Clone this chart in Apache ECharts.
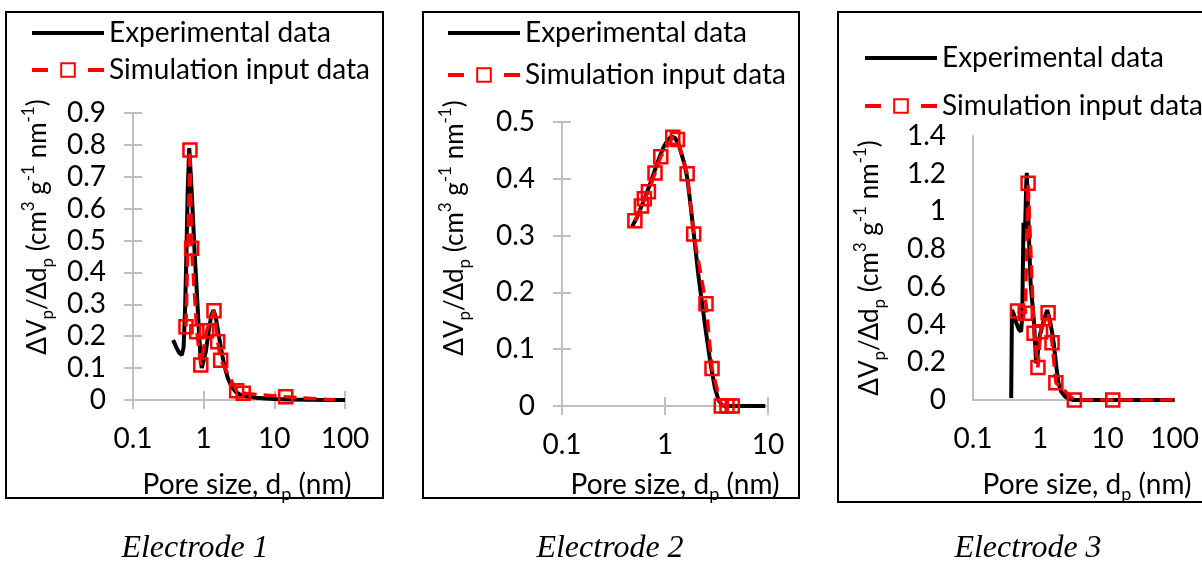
<!DOCTYPE html>
<html>
<head>
<meta charset="utf-8">
<script src="https://cdn.jsdelivr.net/npm/echarts@6/dist/echarts.min.js"></script>
<style>
  html, body { margin: 0; padding: 0; background: #fff; }
  #main { width: 1202px; height: 563px; }
</style>
</head>
<body>
<div id="main"></div>
<script>
// Electrode 1
var exp1X = [0.37, 0.41, 0.45, 0.49, 0.52, 0.545, 0.57, 0.595, 0.625, 0.66, 0.70, 0.75, 0.80, 0.85, 0.90, 0.94, 0.99, 1.07, 1.17, 1.28, 1.38, 1.48, 1.60, 1.75, 1.95, 2.2, 2.5, 2.9, 3.4, 4.2, 5.5, 7.5, 10, 16, 30, 60, 100];
var exp1Y = [0.188, 0.165, 0.148, 0.141, 0.165, 0.28, 0.46, 0.66, 0.79, 0.70, 0.59, 0.45, 0.34, 0.23, 0.14, 0.10, 0.105, 0.15, 0.21, 0.265, 0.282, 0.26, 0.215, 0.165, 0.11, 0.068, 0.04, 0.024, 0.015, 0.010, 0.007, 0.005, 0.003, 0.0015, 0.0007, 0.0003, 0];
var sim1X = [0.562, 0.64, 0.676, 0.80, 0.91, 1.10, 1.40, 1.58, 1.74, 2.93, 3.63, 14.5, 72];
var sim1Y = [0.230, 0.784, 0.476, 0.214, 0.110, 0.217, 0.280, 0.183, 0.125, 0.029, 0.021, 0.010, 0];

// Electrode 2
var exp2X = [0.48, 0.53, 0.58, 0.64, 0.71, 0.79, 0.88, 0.97, 1.06, 1.15, 1.25, 1.35, 1.45, 1.55, 1.65, 1.78, 1.95, 2.1, 2.29, 2.5, 2.7, 2.84, 3.05, 3.3, 3.55, 3.8, 5, 7, 9.4];
var exp2Y = [0.316, 0.331, 0.348, 0.367, 0.389, 0.413, 0.437, 0.456, 0.468, 0.474, 0.472, 0.462, 0.443, 0.425, 0.40, 0.35, 0.286, 0.233, 0.181, 0.13, 0.088, 0.063, 0.032, 0.011, 0.002, 0, 0, 0, 0];
var sim2X = [0.51, 0.59, 0.63, 0.69, 0.80, 0.91, 1.19, 1.32, 1.64, 1.90, 2.50, 2.86, 3.52, 4.0, 4.5];
var sim2Y = [0.326, 0.352, 0.365, 0.377, 0.410, 0.439, 0.473, 0.469, 0.409, 0.303, 0.180, 0.066, 0, 0, 0];

// Electrode 3
var exp3X = [0.37, 0.375, 0.38, 0.40, 0.44, 0.48, 0.52, 0.54, 0.555, 0.565, 0.58, 0.60, 0.62, 0.632, 0.66, 0.69, 0.72, 0.77, 0.81, 0.84, 0.87, 0.90, 0.95, 1.0, 1.07, 1.17, 1.27, 1.38, 1.50, 1.59, 1.72, 1.87, 2.05, 2.34, 2.7, 3.1, 5, 10, 30, 100];
var exp3Y = [0.01, 0.25, 0.477, 0.46, 0.41, 0.375, 0.362, 0.45, 0.75, 0.94, 0.88, 0.95, 1.15, 1.205, 1.0, 0.80, 0.62, 0.50, 0.407, 0.30, 0.195, 0.21, 0.30, 0.35, 0.389, 0.44, 0.477, 0.43, 0.36, 0.30, 0.19, 0.089, 0.045, 0.018, 0.006, 0, 0, 0, 0, 0];
var sim3X = [0.46, 0.60, 0.66, 0.81, 0.925, 1.01, 1.31, 1.50, 1.71, 3.22, 12.0, 100];
var sim3Y = [0.472, 0.460, 1.149, 0.354, 0.173, 0.362, 0.463, 0.304, 0.092, 0, 0, 0];

var yMax = [0.9, 0.5, 1.4];
var yStep = [0.1, 0.1, 0.2];
var xMax = [100, 10, 100];
var captions = ['Electrode 1', 'Electrode 2', 'Electrode 3'];

var FONT = 'Lato';
var GRAY = '#bfbfbf';
var RED = '#ff0000';

var grids = [
  { left: 133, top: 113, width: 212, height: 287 },
  { left: 562, top: 122, width: 206, height: 284 },
  { left: 973, top: 136, width: 205, height: 264 }
];

function pairs(xs, ys) {
  return xs.map(function (x, i) { return [x, ys[i]]; });
}
// the last simulation point of panels 1 and 3 carries no marker in the picture
function simPairs(xs, ys, hideLast) {
  return xs.map(function (x, i) {
    if (hideLast && i === xs.length - 1) return { value: [x, ys[i]], symbol: 'none' };
    return [x, ys[i]];
  });
}

function axisTitle(text, x, y, rot, size) {
  var small = Math.round(size * 0.65);
  return {
    type: 'text',
    x: x, y: y,
    rotation: rot,
    style: {
      text: text,
      fontFamily: FONT, fontSize: size, fill: '#000',
      lineHeight: 36,
      rich: {
        sub: { fontFamily: FONT, fontSize: small, color: '#000', verticalAlign: 'bottom', lineHeight: 36 },
        sup: { fontFamily: FONT, fontSize: small, color: '#000', verticalAlign: 'top', lineHeight: 36 }
      },
      align: 'center', verticalAlign: 'middle',
      textAlign: 'center', textVerticalAlign: 'middle'
    }
  };
}

var xAxes = [], yAxes = [], series = [];
for (var i = 0; i < 3; i++) {
  var ticks = i < 2;
  xAxes.push({
    gridIndex: i, type: 'log', logBase: 10, min: 0.1, max: xMax[i],
    position: 'bottom',
    axisLine: { onZero: false, lineStyle: { color: GRAY, width: 2 } },
    axisTick: { show: ticks, length: 9, lineStyle: { color: GRAY, width: 2 } },
    minorTick: { show: false },
    splitLine: { show: false },
    axisLabel: { margin: 25, fontFamily: FONT, fontSize: 28, color: '#000' }
  });
  yAxes.push({
    gridIndex: i, type: 'value', min: 0, max: yMax[i], interval: yStep[i],
    position: 'left',
    axisLine: { show: true, lineStyle: { color: GRAY, width: 2 } },
    axisTick: { show: ticks, length: 9, lineStyle: { color: GRAY, width: 2 } },
    splitLine: { show: false },
    axisLabel: { margin: 27, fontFamily: FONT, fontSize: 28, color: '#000' }
  });
}
// inner half of the cross ticks (panels 1 and 2)
for (var j = 0; j < 2; j++) {
  xAxes.push({
    gridIndex: j, type: 'log', logBase: 10, min: 0.1, max: xMax[j],
    position: 'bottom',
    axisLine: { show: false, onZero: false },
    axisTick: { show: true, inside: true, length: 9, lineStyle: { color: GRAY, width: 2 } },
    axisLabel: { show: false },
    splitLine: { show: false }
  });
  yAxes.push({
    gridIndex: j, type: 'value', min: 0, max: yMax[j], interval: yStep[j],
    position: 'left',
    axisLine: { show: false },
    axisTick: { show: true, inside: true, length: 9, lineStyle: { color: GRAY, width: 2 } },
    axisLabel: { show: false },
    splitLine: { show: false }
  });
}

var expData = [pairs(exp1X, exp1Y), pairs(exp2X, exp2Y), pairs(exp3X, exp3Y)];
var simData = [simPairs(sim1X, sim1Y, true), simPairs(sim2X, sim2Y, false), simPairs(sim3X, sim3Y, true)];

for (var k = 0; k < 3; k++) {
  series.push({
    name: 'Experimental data',
    type: 'line',
    xAxisIndex: k, yAxisIndex: k,
    data: expData[k],
    symbol: 'none',
    symbolKeepAspect: true,
    color: '#000',
    lineStyle: { color: '#000', width: 4 },
    z: 2
  });
  series.push({
    name: 'Simulation input data',
    type: 'line',
    xAxisIndex: k, yAxisIndex: k,
    data: simData[k],
    symbol: 'rect',
    symbolSize: 13,
    showAllSymbol: true,
    itemStyle: { color: 'rgba(0,0,0,0)', borderColor: RED, borderWidth: 2.5 },
    lineStyle: { color: RED, width: 3.5, type: [13, 7] },
    z: 3
  });
}

function legendFor(left, top, gap) {
  return {
    orient: 'vertical', left: left, top: top,
    padding: 0,
    itemWidth: 72, itemHeight: 17, itemGap: gap,
    selectedMode: false,
    lineStyle: { type: [16, 40], width: 4 },
    textStyle: { fontFamily: FONT, fontSize: 28, color: '#000', lineHeight: 28 },
    data: [
      { name: 'Experimental data', icon: 'path://M0,0L70,0L70,4L0,4Z', symbolKeepAspect: true },
      'Simulation input data'
    ]
  };
}

var yTitle = 'ΔV{sub|p}/Δd{sub|p} (cm{sup|3} g{sup|-1} nm{sup|-1})';
var xTitle = 'Pore size, d{sub|p} (nm)';
var graphics = [
  { type: 'rect', shape: { x: 6, y: 12, width: 377, height: 486 }, style: { fill: 'none', stroke: '#000', lineWidth: 2 }, z: -1 },
  { type: 'rect', shape: { x: 423, y: 12, width: 376, height: 486 }, style: { fill: 'none', stroke: '#000', lineWidth: 2 }, z: -1 },
  { type: 'rect', shape: { x: 838, y: 12, width: 420, height: 490 }, style: { fill: 'none', stroke: '#000', lineWidth: 2 }, z: -1 },
  axisTitle(yTitle, 38, 227, Math.PI / 2, 26),
  axisTitle(yTitle, 455, 228, Math.PI / 2, 26),
  axisTitle(yTitle, 870, 268, Math.PI / 2, 26),
  axisTitle(xTitle, 247, 485, 0, 28),
  axisTitle(xTitle, 675, 485, 0, 28),
  axisTitle(xTitle, 1087, 485, 0, 28)
];
var capX = [195, 610, 1028];
for (var c = 0; c < 3; c++) {
  graphics.push({
    type: 'text', x: capX[c], y: 549,
    style: {
      text: captions[c], fontFamily: 'Liberation Serif', fontStyle: 'italic', fontSize: 32, fill: '#000',
      align: 'center', verticalAlign: 'middle', textAlign: 'center', textVerticalAlign: 'middle'
    }
  });
}

var chart = echarts.init(document.getElementById('main'), null, { renderer: 'canvas' });
var option = {
  backgroundColor: '#fff',
  animation: false,
  grid: grids,
  xAxis: xAxes,
  yAxis: yAxes,
  legend: [legendFor(30, 19, 9), legendFor(446, 19, 14), legendFor(863, 44, 20)],
  series: series,
  graphic: graphics
};
chart.setOption(option);
</script>
</body>
</html>
